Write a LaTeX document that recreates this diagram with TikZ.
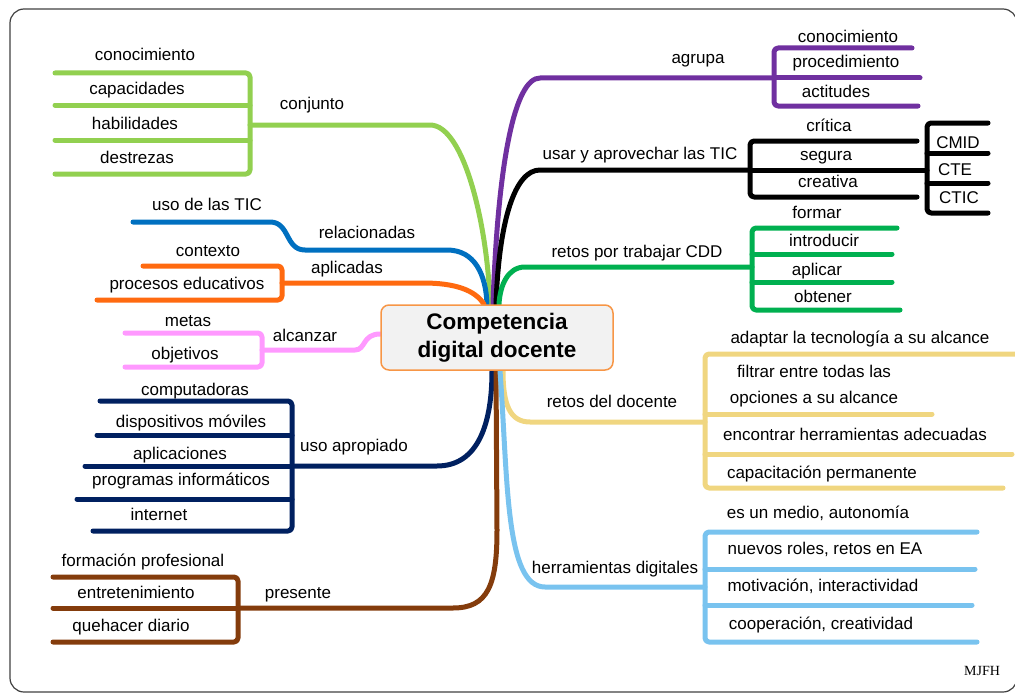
\documentclass[tikz,border=0pt]{standalone}
\usepackage{fontspec}
\setmainfont{Liberation Sans}
\newfontfamily\mjfont{Liberation Serif}
\usetikzlibrary{backgrounds}
\definecolor{cjgreen}{HTML}{92D050}
\definecolor{reblue}{HTML}{0070C0}
\definecolor{aporange}{HTML}{FF6A10}
\definecolor{alpink}{HTML}{FF99FF}
\definecolor{upnavy}{HTML}{002060}
\definecolor{prbrown}{HTML}{843C0C}
\definecolor{agpurple}{HTML}{7030A0}
\definecolor{rtgreen}{HTML}{00B050}
\definecolor{rdyellow}{HTML}{F0D680}
\definecolor{hdblue}{HTML}{79C3EF}
\definecolor{cddorange}{HTML}{F79646}
\definecolor{cddgray}{HTML}{F2F2F2}
\begin{document}
\begin{tikzpicture}[x=1pt,y=-1pt,
  branch/.style={line width=5pt, line cap=round, line join=round},
  bracket/.style={branch, rounded corners=4pt},
  lbl/.style={font=\fontsize{17}{20}\selectfont, inner sep=0pt, text height=13pt, text depth=1pt}
  ]
  \useasboundingbox (0,0) rectangle (1015,693);
  % central node
  \node[draw=cddorange, fill=cddgray, line width=1.5pt, rounded corners=8pt,
    minimum width=232pt, minimum height=65pt, align=center,
    font=\bfseries\fontsize{22.5}{28}\selectfont] (cdd) at (497,337.5) {Competencia\\digital docente};

  \begin{scope}[on background layer]
  \draw[black!75, line width=1.2pt, rounded corners=14pt] (10,9) rectangle (1017,692);

  % conjunto
  \foreach \n/\y in {1/73,2/105,3/140,4/174}{
    \coordinate (cjL\n) at (55,\y); \coordinate (cjR\n) at (250,\y);}
  \coordinate (cjS) at (250,125); \coordinate (cjK) at (430,125);
  \draw[bracket, cjgreen] (cjL1) -- (cjR1) -- (cjR4) -- (cjL4);
  \draw[branch, cjgreen] (cjL2) -- (cjR2) (cjL3) -- (cjR3);
  \draw[branch, cjgreen] (cjS) -- (cjK) .. controls (465,125) and (488,230) .. ([xshift=-7pt]cdd.north);

  % relacionadas
  \coordinate (reL) at (133,222); \coordinate (reA) at (270,222);
  \coordinate (reB) at (305,250); \coordinate (reC) at (447,250);
  \draw[branch, reblue] (reL) -- (reA) .. controls (290,222) and (285,250) .. (reB) -- (reC)
    .. controls (475,250) and (486,275) .. ([xshift=-10pt]cdd.north);

  % aplicadas
  \coordinate (apL1) at (143,266); \coordinate (apR1) at (282,266);
  \coordinate (apL2) at (97,300); \coordinate (apR2) at (282,300);
  \coordinate (apS) at (282,283); \coordinate (apK) at (423,283);
  \draw[bracket, aporange] (apL1) -- (apR1) -- (apR2) -- (apL2);
  \draw[branch, aporange] (apS) -- (apK) .. controls (455,283) and (475,290) .. ([xshift=-13pt]cdd.north);

  % alcanzar
  \coordinate (alL1) at (125,333); \coordinate (alR1) at (262,333);
  \coordinate (alL2) at (125,367); \coordinate (alR2) at (262,367);
  \coordinate (alS) at (262,350); \coordinate (alK) at (355,350);
  \draw[bracket, alpink] (alL1) -- (alR1) -- (alR2) -- (alL2);
  \draw[branch, alpink] (alS) -- (alK) .. controls (366,350) and (362,334) .. ([yshift=3.5pt]cdd.west);

  % uso apropiado
  \foreach \n/\x/\y in {1/100/401,2/97/435,3/85/466,4/77/499,5/93/531}{
    \coordinate (upL\n) at (\x,\y); \coordinate (upR\n) at (292,\y);}
  \coordinate (upK) at (437,466);
  \draw[bracket, upnavy] (upL1) -- (upR1) -- (upR5) -- (upL5);
  \draw[branch, upnavy] (upL2) -- (upR2) (upL3) -- (upR3) (upL4) -- (upR4);
  \draw[branch, upnavy] (upR3) -- (upK) .. controls (480,466) and (492,420) .. ([xshift=-5pt]cdd.south);

  % presente
  \foreach \n/\y in {1/577,2/608,3/642}{
    \coordinate (prL\n) at (53,\y); \coordinate (prR\n) at (238,\y);}
  \coordinate (prK) at (453,608); \coordinate (prV) at (497,530);
  \draw[bracket, prbrown] (prL1) -- (prR1) -- (prR3) -- (prL3);
  \draw[branch, prbrown] (prL2) -- (prR2);
  \draw[branch, prbrown] (prR2) -- (prK) .. controls (488,608) and (497,585) .. (prV) -- ([xshift=-1pt]cdd.south);

  % agrupa
  \foreach \n/\x/\y in {1/912/48,2/920/78,3/918/106}{
    \coordinate (agL\n) at (774,\y); \coordinate (agR\n) at (\x,\y);}
  \coordinate (agK) at (540,78);
  \draw[bracket, agpurple] (agR1) -- (agL1) -- (agL3) -- (agR3);
  \draw[branch, agpurple] (agL2) -- (agR2);
  \draw[branch, agpurple] (agL2) -- (agK) .. controls (515,78) and (498,160) .. ([xshift=-4pt]cdd.north);

  % usar y aprovechar las TIC
  \foreach \n/\x/\y in {1/917/141,2/927/170,3/917/197}{
    \coordinate (usL\n) at (750,\y); \coordinate (usR\n) at (\x,\y);}
  \foreach \n/\y in {1/123,2/153,3/183,4/213}{
    \coordinate (ctL\n) at (927,\y); \coordinate (ctR\n) at (988,\y);}
  \coordinate (usK) at (540,170);
  \draw[bracket] (usR1) -- (usL1) -- (usL3) -- (usR3);
  \draw[branch] (usL2) -- (usR2);
  \draw[bracket] (ctR1) -- (ctL1) -- (ctL4) -- (ctR4);
  \draw[branch] (ctL2) -- (ctR2) (ctL3) -- (ctR3);
  \draw[branch] (usL2) -- (usK) .. controls (515,170) and (499,220) .. ([xshift=-1pt]cdd.north);

  % retos por trabajar CDD
  \foreach \n/\x/\y in {1/897/228,2/892/254,3/892/282,4/900/310}{
    \coordinate (rtL\n) at (752,\y); \coordinate (rtR\n) at (\x,\y);}
  \coordinate (rtS) at (752,267); \coordinate (rtK) at (525,267);
  \draw[bracket, rtgreen] (rtR1) -- (rtL1) -- (rtL4) -- (rtR4);
  \draw[branch, rtgreen] (rtL2) -- (rtR2) (rtL3) -- (rtR3);
  \draw[branch, rtgreen] (rtS) -- (rtK) .. controls (508,267) and (500,285) .. ([xshift=2pt]cdd.north);

  % retos del docente
  \foreach \n/\x/\y in {1/1020/354,2/932/414,3/1012/454,4/1003/488}{
    \coordinate (rdL\n) at (705,\y); \coordinate (rdR\n) at (\x,\y);}
  \coordinate (rdS) at (705,422); \coordinate (rdK) at (530,422);
  \draw[bracket, rdyellow] (rdR1) -- (rdL1) -- (rdL4) -- (rdR4);
  \draw[branch, rdyellow] (rdL2) -- (rdR2) (rdL3) -- (rdR3);
  \draw[branch, rdyellow] (rdS) -- (rdK) .. controls (510,422) and (503,405) .. ([xshift=6pt]cdd.south);

  % herramientas digitales
  \foreach \n/\x/\y in {1/977/532,2/975/569,3/972/605,4/977/642}{
    \coordinate (hdL\n) at (705,\y); \coordinate (hdR\n) at (\x,\y);}
  \coordinate (hdS) at (705,587); \coordinate (hdK) at (545,587);
  \draw[bracket, hdblue] (hdR1) -- (hdL1) -- (hdL4) -- (hdR4);
  \draw[branch, hdblue] (hdL2) -- (hdR2) (hdL3) -- (hdR3);
  \draw[branch, hdblue] (hdS) -- (hdK) .. controls (505,587) and (508,480) .. ([xshift=3pt]cdd.south);
  \end{scope}

  % labels, left side
  \node[lbl] (cjA) at (145,55) {conocimiento};
  \node[lbl] (cjB) at (137,89) {capacidades};
  \node[lbl] (cjC) at (135,123) {habilidades};
  \node[lbl] (cjD) at (137,157) {destrezas};
  \node[lbl] (conjunto) at (312,104) {conjunto};
  \node[lbl] (reA1) at (207,204) {uso de las TIC};
  \node[lbl] (relacionadas) at (367,232) {relacionadas};
  \node[lbl] (apA) at (208,250) {contexto};
  \node[lbl] (apB) at (187,283) {procesos educativos};
  \node[lbl] (aplicadas) at (347,267) {aplicadas};
  \node[lbl] (alA) at (188,320) {metas};
  \node[lbl] (alB) at (185,353) {objetivos};
  \node[lbl] (alcanzar) at (305,335) {alcanzar};
  \node[lbl] (upA) at (195,389) {computadoras};
  \node[lbl] (upB) at (191,421) {dispositivos móviles};
  \node[lbl] (upC) at (180,453) {aplicaciones};
  \node[lbl] (upD) at (181,479) {programas informáticos};
  \node[lbl] (upE) at (159,514) {internet};
  \node[lbl] (usoapropiado) at (354,445) {uso apropiado};
  \node[lbl] (prA) at (143,560) {formación profesional};
  \node[lbl] (prB) at (136,592) {entretenimiento};
  \node[lbl] (prC) at (131,625) {quehacer diario};
  \node[lbl] (presente) at (298,592) {presente};

  % labels, right side
  \node[lbl] (agA) at (848,37) {conocimiento};
  \node[lbl] (agB) at (846,62) {procedimiento};
  \node[lbl] (agC) at (836,92) {actitudes};
  \node[lbl] (agrupa) at (698,58) {agrupa};
  \node[lbl] (usA) at (829,125) {crítica};
  \node[lbl] (usB) at (826,154) {segura};
  \node[lbl] (usC) at (828,181) {creativa};
  \node[lbl] (ctA) at (958,142) {CMID};
  \node[lbl] (ctB) at (955,169) {CTE};
  \node[lbl] (ctC) at (959,197) {CTIC};
  \node[lbl] (usar) at (640,153) {usar y aprovechar las TIC};
  \node[lbl] (rtA) at (817,212) {formar};
  \node[lbl] (rtB) at (824,240) {introducir};
  \node[lbl] (rtC) at (817,269) {aplicar};
  \node[lbl] (rtD) at (823,296) {obtener};
  \node[lbl] (retoscdd) at (637,251) {retos por trabajar CDD};
  \node[lbl] (rdA) at (860,337) {adaptar la tecnología a su alcance};
  \node[lbl, text height=, text depth=, align=center, font=\fontsize{17}{26}\selectfont] (rdB) at (814,386) {filtrar entre todas las\\opciones a su alcance};
  \node[lbl] (rdC) at (855,434) {encontrar herramientas adecuadas};
  \node[lbl] (rdD) at (822,472) {capacitación permanente};
  \node[lbl] (retosdocente) at (612,401) {retos del docente};
  \node[lbl] (hdA) at (818,512) {es un medio, autonomía};
  \node[lbl] (hdB) at (825,548) {nuevos roles, retos en EA};
  \node[lbl] (hdC) at (823,585) {motivación, interactividad};
  \node[lbl] (hdD) at (821,623) {cooperación, creatividad};
  \node[lbl] (herramientas) at (615,567) {herramientas digitales};
  \node[font=\mjfont\fontsize{14}{16}\selectfont, inner sep=0pt] (mjfh) at (982,671) {MJFH};
\end{tikzpicture}
\end{document}
